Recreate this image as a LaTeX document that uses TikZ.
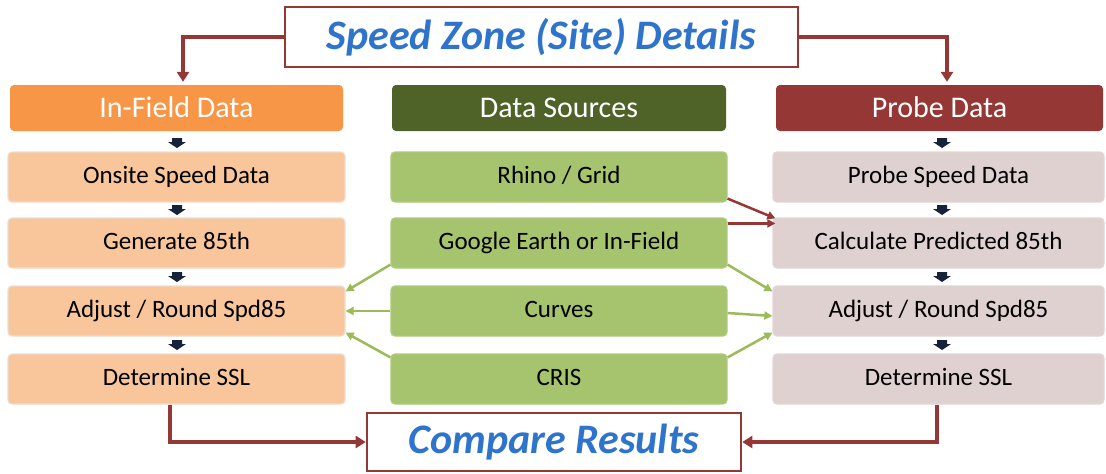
\documentclass[tikz,border=0pt]{standalone}
\usepackage{fontspec}
\setmainfont{Carlito}
\usetikzlibrary{arrows.meta,calc}
\definecolor{hdrOrange}{HTML}{F79646}
\definecolor{rowOrange}{HTML}{F9C69C}
\definecolor{hdrOlive}{HTML}{4F6228}
\definecolor{rowGreen}{HTML}{A6C36E}
\definecolor{hdrRed}{HTML}{953735}
\definecolor{rowRose}{HTML}{DFD1D0}
\definecolor{linkRed}{HTML}{953735}
\definecolor{linkGreen}{HTML}{9BBB59}
\definecolor{titleBlue}{HTML}{2F74CC}
\definecolor{stepNavy}{HTML}{17233A}
\tikzset{
  box/.style={rounded corners=4pt, minimum height=50pt, inner sep=0pt,
    text height=16pt, text depth=4pt,
    font=\fontsize{25}{27}\selectfont, text=black, line width=1.2pt},
  header/.style={rounded corners=4pt, minimum height=46pt, inner sep=0pt,
    text height=20pt, text depth=2pt,
    font=\fontsize{30}{32}\selectfont, text=white},
  banner/.style={draw=linkRed, fill=white, line width=2.6pt, inner sep=0pt,
    text=titleBlue, font=\fontsize{42}{44}\selectfont\bfseries\itshape},
  redlink/.style={draw=linkRed, line width=3.2pt,
    -{Triangle[length=10pt,width=12pt]}},
  thinred/.style={draw=linkRed, line width=2.5pt,
    -{Triangle[length=8pt,width=8pt]}},
  greenlink/.style={draw=linkGreen, line width=2.5pt,
    -{Triangle[length=8pt,width=8pt]}},
  leftbox/.style={box, fill=rowOrange, draw=rowOrange!85!black!40!white, minimum width=337pt},
  midbox/.style={box, fill=rowGreen, draw=rowGreen!90!white, minimum width=336pt},
  rightbox/.style={box, fill=rowRose, draw=rowRose!90!white, minimum width=331pt},
}
% small downward block arrow placed between two stacked boxes
\newcommand{\stepdown}[1]{%
  \fill[stepNavy] ($(#1)+(-5,-5)$) -- ++(10,0) -- ++(0,4) -- ++(4,0)
    -- ($(#1)+(0,5)$) -- ($(#1)+(-9,-1)$) -- ++(4,0) -- cycle;}
\begin{document}
\begin{tikzpicture}[x=1pt,y=-1pt]
\useasboundingbox (0,0) rectangle (1106,474);

% title banner
\node[banner, minimum width=513pt, minimum height=60pt] (title) at (541.5,37) {Speed Zone (Site) Details};

% column headers
\node[header, fill=hdrOrange, minimum width=333pt] (hIn) at (176.5,108) {In-Field Data};
\node[header, fill=hdrOlive, minimum width=334pt] (hDS) at (559,108) {Data Sources};
\node[header, fill=hdrRed, minimum width=327pt] (hPr) at (939.5,108) {Probe Data};

% in-field column
\node[leftbox] (lOn)  at (176.5,177) {Onsite Speed Data};
\node[leftbox] (lGen) at (176.5,243) {Generate 85th};
\node[leftbox] (lAdj) at (176.5,311) {Adjust / Round Spd85};
\node[leftbox] (lDet) at (176.5,379) {Determine SSL};

% data sources column
\node[midbox] (mRh) at (559,177) {Rhino / Grid};
\node[midbox] (mGE) at (559,243) {Google Earth or In-Field};
\node[midbox] (mCu) at (559,311) {Curves};
\node[midbox] (mCR) at (559,379) {CRIS};

% probe column
\node[rightbox] (rPr)   at (938.5,177) {Probe Speed Data};
\node[rightbox] (rCalc) at (938.5,243) {Calculate Predicted 85th};
\node[rightbox] (rAdj)  at (938.5,311) {Adjust / Round Spd85};
\node[rightbox] (rDet)  at (938.5,379) {Determine SSL};

% result banner
\node[banner, minimum width=374pt, minimum height=58pt] (cmp) at (554,442) {Compare Results};

% step arrows down each side column
\coordinate (sL1) at (177,143); \coordinate (sL2) at (177,210);
\coordinate (sL3) at (177,277); \coordinate (sL4) at (177,345);
\coordinate (sR1) at (942,143); \coordinate (sR2) at (942,210);
\coordinate (sR3) at (942,277); \coordinate (sR4) at (942,345);
\foreach \c in {sL1,sL2,sL3,sL4,sR1,sR2,sR3,sR4} {\stepdown{\c}}

% banner to column headers
\draw[redlink] (title.west) -| ([xshift=6.5pt,yshift=3pt]hIn.north);
\draw[redlink] (title.east) -| ([xshift=7.5pt,yshift=3pt]hPr.north);

% final results feed the comparison
\draw[redlink] ([xshift=-6.5pt]lDet.south) |- (cmp.west);
\draw[redlink] ([xshift=-1.5pt]rDet.south) |- (cmp.east);

% data sources into probe prediction
\draw[thinred] ([yshift=4pt]mRh.south east) -- ([xshift=3pt,yshift=-1pt]rCalc.north west);
\draw[thinred] ([yshift=-6pt]mGE.north east) -- ([xshift=3pt,yshift=-6pt]rCalc.north west);

% data sources into adjustment, left
\draw[greenlink] ([yshift=4pt]mGE.south west) -- ([yshift=-6pt]lAdj.north east);
\draw[greenlink] (mCu.west) -- (lAdj.east);
\draw[greenlink] ([yshift=-4pt]mCR.north west) -- ([yshift=4pt]lAdj.south east);

% data sources into adjustment, right
\draw[greenlink] ([yshift=4pt]mGE.south east) -- ([yshift=-6pt]rAdj.north west);
\draw[greenlink] ([yshift=-2pt]mCu.east) -- ([yshift=-5pt]rAdj.west);
\draw[greenlink] ([yshift=-4pt]mCR.north east) -- ([yshift=4pt]rAdj.south west);
\end{tikzpicture}
\end{document}
